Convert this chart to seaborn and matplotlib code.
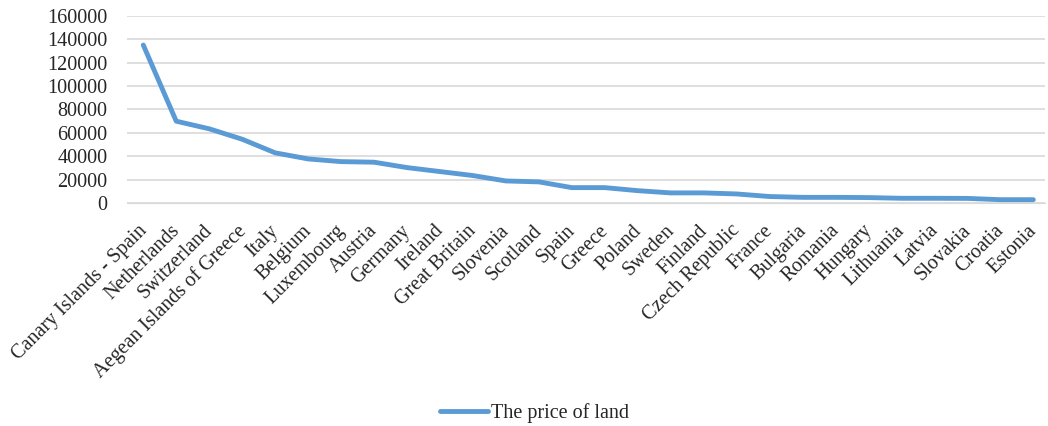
import numpy as np
import pandas as pd
import matplotlib
matplotlib.use('Agg')
import matplotlib.pyplot as plt
import matplotlib.transforms as mtransforms
import seaborn as sns

countries = ['Canary Islands - Spain', 'Netherlands', 'Switzerland', 'Aegean Islands of Greece',
             'Italy', 'Belgium', 'Luxembourg', 'Austria', 'Germany', 'Ireland', 'Great Britain',
             'Slovenia', 'Scotland', 'Spain', 'Greece', 'Poland', 'Sweden', 'Finland',
             'Czech Republic', 'France', 'Bulgaria', 'Romania', 'Hungary', 'Lithuania',
             'Latvia', 'Slovakia', 'Croatia', 'Estonia']
price = [135000, 70000, 63500, 54600, 43000, 37800, 35500, 35000, 30400, 27000, 23600,
         19000, 18200, 13300, 13300, 10700, 8800, 8800, 7900, 5700, 5000, 5000, 4800,
         4200, 4200, 4100, 3000, 3000]
y_ticks = [0, 20000, 40000, 60000, 80000, 100000, 120000, 140000, 160000]

sns.set_style('white')
plt.rcParams['font.family'] = ['Liberation Serif', 'DejaVu Serif']
fs = 14.5

df = pd.DataFrame({'country': countries, 'price': price})

fig = plt.figure(figsize=(10.48, 4.26), dpi=100)
ax = fig.add_axes([0.121, 0.523, 0.876, 0.44])
sns.lineplot(data=df, x='country', y='price', sort=False, color='#5B9BD5',
             linewidth=3.5, solid_capstyle='round', label='The price of land', ax=ax)

ax.set_ylim(0, 160000)
ax.set_xlim(-0.5, len(countries) - 0.65)
ax.set_yticks(y_ticks)
ax.set_yticklabels([str(v) for v in y_ticks], fontsize=fs)
ax.set_xticks(range(len(countries)))
ax.set_xticklabels(countries, rotation=45, ha='right', rotation_mode='anchor', fontsize=fs)
ax.tick_params(axis='x', length=0, pad=13)
ax.tick_params(axis='y', length=0, pad=14)
# nudge the slanted labels a little to the left
shift = mtransforms.ScaledTranslation(-6 / 100, 0, fig.dpi_scale_trans)
for lab in ax.get_xticklabels():
    lab.set_transform(lab.get_transform() + shift)
ax.grid(axis='y', color='#D9D9D9', linewidth=1.2)
ax.set_axisbelow(True)
for s in ['top', 'right', 'left']:
    ax.spines[s].set_visible(False)
ax.spines['bottom'].set_color('#D9D9D9')
ax.set_xlabel('')
ax.set_ylabel('')

ax.get_legend().remove()
handles, labels = ax.get_legend_handles_labels()
fig.legend(handles, labels, loc='center', bbox_to_anchor=(0.51, 0.03), frameon=False,
           fontsize=fs, handlelength=2.4, handletextpad=0.15)

fig.savefig('out.png', dpi=100)
